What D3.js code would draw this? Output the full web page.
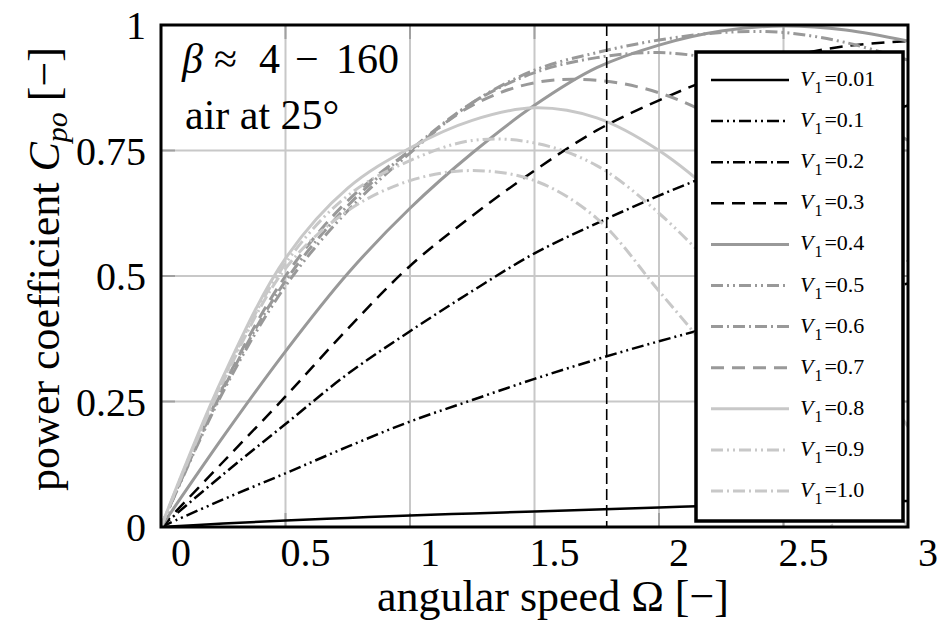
<!DOCTYPE html>
<html>
<head>
<meta charset="utf-8">
<title>power coefficient</title>
<script src="https://cdn.jsdelivr.net/npm/d3@7"></script>
<style>
  body { margin: 0; background: #fff; }
  svg { font-family: "Liberation Serif", "DejaVu Serif", serif; }
</style>
</head>
<body>
<script>
// angular speed samples and C_po for each V1
var omega   = [0, 0.25, 0.5, 0.75, 1, 1.25, 1.5, 1.75, 2, 2.25, 2.5, 2.75, 3];
var cp_v001 = [0, 0.007, 0.013, 0.018, 0.023, 0.027, 0.031, 0.035, 0.039, 0.043, 0.046, 0.049, 0.052];
var cp_v01  = [0, 0.055, 0.107, 0.16, 0.21, 0.253, 0.295, 0.334, 0.37, 0.403, 0.433, 0.46, 0.485];
var cp_v02  = [0, 0.105, 0.205, 0.305, 0.39, 0.47, 0.545, 0.605, 0.66, 0.71, 0.755, 0.8, 0.84];
var cp_v03  = [0, 0.13, 0.26, 0.395, 0.52, 0.62, 0.71, 0.79, 0.85, 0.9, 0.935, 0.958, 0.968];
var cp_v04  = [0, 0.18, 0.35, 0.505, 0.635, 0.745, 0.84, 0.915, 0.96, 0.988, 0.998, 0.99, 0.968];
var cp_v05  = [0, 0.27, 0.48, 0.63, 0.745, 0.845, 0.91, 0.945, 0.97, 0.985, 0.985, 0.965, 0.93];
var cp_v06  = [0, 0.275, 0.49, 0.64, 0.75, 0.845, 0.905, 0.935, 0.945, 0.93, 0.895, 0.84, 0.77];
var cp_v07  = [0, 0.28, 0.5, 0.65, 0.75, 0.84, 0.885, 0.89, 0.865, 0.81, 0.735, 0.64, 0.53];
var cp_v08  = [0, 0.3, 0.535, 0.675, 0.755, 0.81, 0.835, 0.815, 0.75, 0.65, 0.52, 0.37, 0.2];
var cp_v09  = [0, 0.295, 0.525, 0.66, 0.73, 0.77, 0.765, 0.72, 0.625, 0.5, 0.35, 0.18, 0];
var cp_v10  = [0, 0.29, 0.515, 0.63, 0.69, 0.71, 0.69, 0.615, 0.47, 0.32, 0.15, -0.04, null];

var legendLabels = ["0.01", "0.1", "0.2", "0.3", "0.4", "0.5", "0.6", "0.7", "0.8", "0.9", "1.0"];
var xTicks = [0, 0.5, 1, 1.5, 2, 2.5, 3];
var xTickLabels = ["0", "0.5", "1", "1.5", "2", "2.5", "3"];
var yTicks = [0, 0.25, 0.5, 0.75, 1];
var yTickLabels = ["0", "0.25", "0.5", "0.75", "1"];
var omegaMarker = 1.79;

var allSeries = [cp_v001, cp_v01, cp_v02, cp_v03, cp_v04, cp_v05, cp_v06, cp_v07, cp_v08, cp_v09, cp_v10];

// line styles, same order as the series
var black = "#000", grey = "#999", light = "#c8c8c8";
var ddot = "12,4,2,4,2,4", dot = "12,4,2,4", dash = "13,8";
var styles = [
  {c: black, d: null, w: 2.5},
  {c: black, d: ddot, w: 2.5},
  {c: black, d: dot,  w: 2.5},
  {c: black, d: dash, w: 2.5},
  {c: grey,  d: null, w: 3},
  {c: grey,  d: ddot, w: 3},
  {c: grey,  d: dot,  w: 3},
  {c: grey,  d: dash, w: 3},
  {c: light, d: null, w: 3},
  {c: light, d: ddot, w: 3},
  {c: light, d: dot,  w: 3}
];

var W = 942, H = 634;
var pL = 161, pR = 908, pT = 25, pB = 527;

var x = d3.scaleLinear().domain([0, 3]).range([pL, pR]);
var y = d3.scaleLinear().domain([0, 1]).range([pB, pT]);

var svg = d3.select("body").append("svg")
    .attr("width", W)
    .attr("height", H);

svg.append("defs").append("clipPath").attr("id", "plotclip")
  .append("rect")
    .attr("x", pL).attr("y", pT)
    .attr("width", pR - pL).attr("height", pB - pT);

// grid
svg.append("g").selectAll("line")
  .data(xTicks.slice(1, -1))
  .enter().append("line")
    .attr("x1", function(d) { return x(d); })
    .attr("x2", function(d) { return x(d); })
    .attr("y1", pT).attr("y2", pB)
    .attr("stroke", "#c8c8c8").attr("stroke-width", 2);
svg.append("g").selectAll("line")
  .data(yTicks.slice(1, -1))
  .enter().append("line")
    .attr("y1", function(d) { return y(d); })
    .attr("y2", function(d) { return y(d); })
    .attr("x1", pL).attr("x2", pR)
    .attr("stroke", "#c8c8c8").attr("stroke-width", 2);

// short inner ticks
var tk = svg.append("g").attr("stroke", "#a0a0a0").attr("stroke-width", 2);
xTicks.slice(1, -1).forEach(function(d) {
  tk.append("line").attr("x1", x(d)).attr("x2", x(d)).attr("y1", pT).attr("y2", pT + 14);
  tk.append("line").attr("x1", x(d)).attr("x2", x(d)).attr("y1", pB).attr("y2", pB - 14);
});
yTicks.slice(1, -1).forEach(function(d) {
  tk.append("line").attr("y1", y(d)).attr("y2", y(d)).attr("x1", pL).attr("x2", pL + 14);
  tk.append("line").attr("y1", y(d)).attr("y2", y(d)).attr("x1", pR).attr("x2", pR - 14);
});

// curves
var line = d3.line()
    .defined(function(d) { return d[1] != null; })
    .x(function(d) { return x(d[0]); })
    .y(function(d) { return y(d[1]); })
    .curve(d3.curveCatmullRom.alpha(0.5));

var curves = svg.append("g").attr("clip-path", "url(#plotclip)");
allSeries.forEach(function(s, i) {
  var pts = omega.map(function(o, j) { return [o, s[j]]; });
  curves.append("path")
    .attr("d", line(pts))
    .attr("fill", "none")
    .attr("stroke", styles[i].c)
    .attr("stroke-width", styles[i].w)
    .attr("stroke-dasharray", styles[i].d);
});

// marker line
svg.append("line")
  .attr("x1", x(omegaMarker)).attr("x2", x(omegaMarker))
  .attr("y1", pT).attr("y2", pB)
  .attr("stroke", "#000").attr("stroke-width", 1.6)
  .attr("stroke-dasharray", "11,5");

// frame
svg.append("rect")
  .attr("x", pL).attr("y", pT)
  .attr("width", pR - pL).attr("height", pB - pT)
  .attr("fill", "none").attr("stroke", "#000").attr("stroke-width", 3);

// tick labels
svg.append("g").selectAll("text")
  .data(xTicks)
  .enter().append("text")
    .attr("x", function(d) { return x(d) + 20; })
    .attr("y", 566)
    .attr("text-anchor", "middle")
    .attr("font-size", 40)
    .text(function(d, i) { return xTickLabels[i]; });
svg.append("g").selectAll("text")
  .data(yTicks)
  .enter().append("text")
    .attr("x", 146)
    .attr("y", function(d) { return y(d) + 14; })
    .attr("text-anchor", "end")
    .attr("font-size", 40)
    .text(function(d, i) { return yTickLabels[i]; });

// axis titles
svg.append("text")
  .attr("x", 553).attr("y", 611)
  .attr("text-anchor", "middle")
  .attr("font-size", 44)
  .text("angular speed \u03A9 [\u2212]");

var yt = svg.append("text")
  .attr("transform", "translate(59,269) rotate(-90)")
  .attr("text-anchor", "middle")
  .attr("font-size", 44);
yt.append("tspan").text("power coefficient ");
yt.append("tspan").attr("font-style", "italic").text("C");
yt.append("tspan").attr("font-style", "italic").attr("font-size", 30).attr("dy", 8).text("po");
yt.append("tspan").attr("dy", -8).text(" [\u2212]");

// annotation
var an = svg.append("text").attr("y", 73).attr("font-size", 42);
an.append("tspan").attr("x", 182).attr("font-style", "italic").text("\u03B2");
an.append("tspan").attr("x", 214).text("\u2248");
an.append("tspan").attr("x", 259).text("4");
an.append("tspan").attr("x", 295).text("\u2212");
an.append("tspan").attr("x", 336).text("160");
svg.append("text").attr("x", 185).attr("y", 129).attr("font-size", 42).text("air at 25\u00B0");

// legend
var lg = svg.append("g");
lg.append("rect")
  .attr("x", 696).attr("y", 52)
  .attr("width", 207).attr("height", 469)
  .attr("fill", "#fff").attr("stroke", "#000").attr("stroke-width", 3.5);

legendLabels.forEach(function(lab, i) {
  var ly = 80 + 41.1 * i;
  lg.append("line")
    .attr("x1", 711).attr("x2", 789)
    .attr("y1", ly).attr("y2", ly)
    .attr("stroke", styles[i].c)
    .attr("stroke-width", styles[i].w)
    .attr("stroke-dasharray", styles[i].d);
  var t = lg.append("text").attr("x", 800).attr("y", ly + 6).attr("font-size", 22);
  t.append("tspan").attr("font-style", "italic").text("V");
  t.append("tspan").attr("font-size", 16).attr("dy", 7).attr("dx", 1).text("1");
  t.append("tspan").attr("dy", -7).attr("dx", 2).text("=" + lab);
});
</script>
</body>
</html>
